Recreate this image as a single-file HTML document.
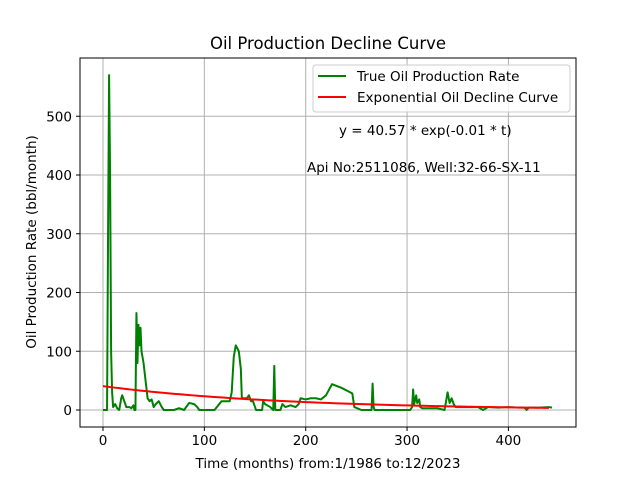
<!DOCTYPE html>
<html><head><meta charset="utf-8"><style>body{margin:0;background:#fff}svg{font-family:"DejaVu Sans","Liberation Sans",sans-serif}</style></head>
<body>
<svg id="chart" width="640" height="480" viewBox="0 0 640 480" xmlns="http://www.w3.org/2000/svg">
<rect width="640" height="480" fill="#fff"/>
<g id="grid"></g>
<g id="series"></g>
<rect x="80" y="58" width="496" height="369" fill="none" stroke="#000" stroke-width="1"/>
<g id="ticks"></g>
<text x="328" y="49" font-size="16.5" text-anchor="middle">Oil Production Decline Curve</text>
<text x="328" y="468" font-size="13.5" text-anchor="middle">Time (months) from:1/1986 to:12/2023</text>
<text transform="translate(36,242) rotate(-90)" font-size="13.5" text-anchor="middle">Oil Production Rate (bbl/month)</text>
<text x="339" y="135" font-size="13.5">y = 40.57 * exp(-0.01 * t)</text>
<text x="307" y="172" font-size="13.5">Api No:2511086, Well:32-66-SX-11</text>
<g>
<rect x="313" y="65" width="257" height="47" rx="3" fill="#fff" fill-opacity="0.8" stroke="#ccc"/>
<line x1="318" y1="76" x2="346" y2="76" stroke="green" stroke-width="2"/>
<text x="357" y="81" font-size="13.5">True Oil Production Rate</text>
<line x1="318" y1="97" x2="346" y2="97" stroke="red" stroke-width="2"/>
<text x="357" y="102" font-size="13.5">Exponential Oil Decline Curve</text>
</g>
</svg>
<script>
const months=[0,4,5,6,7,8,9,10,12,14,16,18,19,21,23,26,28,30,31,32,33,34,35,36,37,38,40,42,44,46,48,50,52,55,58,60,70,75,80,85,90,93,95,110,117,125,127,129,131,134,136,137,140,142,144,146,148,150,151,157,158,160,165,168,169,170,175,177,180,185,190,193,195,200,205,210,215,220,226,235,244,246,248,255,265,266,267,268,280,300,303,305,306,307,309,310,312,313,315,330,337,339,340,342,344,346,348,350,360,370,375,380,390,400,410,416,418,420,430,440,443];
const rates=[0,0,300,570,400,100,30,5,10,3,0,20,25,15,5,5,3,8,0,0,165,80,145,110,140,100,80,50,20,15,18,5,10,15,5,0,0,3,0,12,10,5,0,0,15,15,30,90,110,100,70,20,20,20,25,15,15,5,0,0,15,10,5,0,75,0,0,10,5,8,5,10,20,18,20,20,18,25,44,38,30,28,5,0,0,45,5,0,0,0,0,5,35,10,25,12,18,5,3,3,0,20,30,12,20,10,5,5,5,5,0,5,4,5,4,4,0,4,4,5,4];
const fitA=[40.57];const fitK=[0.0055];const fitEnd=[443];
const xTicks=[0,100,200,300,400];const yTicks=[0,100,200,300,400,500];
const X=v=>103+v*1.0135, Y=v=>410-v*0.5875;
const NS="http://www.w3.org/2000/svg";
function mk(t,a,p){const e=document.createElementNS(NS,t);for(const k in a)e.setAttribute(k,a[k]);p.appendChild(e);return e;}
const grid=document.getElementById('grid'),ticks=document.getElementById('ticks'),ser=document.getElementById('series');
xTicks.forEach(v=>{const x=X(v);
const g=mk('line',{x1:x,x2:x,y1:58,y2:427,stroke:'#b0b0b0','stroke-width':1},grid);


mk('line',{x1:x,x2:x,y1:427,y2:431,stroke:'#000'},ticks);
const t=mk('text',{x:x,y:445,'font-size':13.5,'text-anchor':'middle'},ticks);t.textContent=v;

});
yTicks.forEach(v=>{const y=Y(v);
const g=mk('line',{x1:80,x2:576,y1:y,y2:y,stroke:'#b0b0b0','stroke-width':1},grid);


mk('line',{x1:76,x2:80,y1:y,y2:y,stroke:'#000'},ticks);
const t=mk('text',{x:72,y:y+5,'font-size':13.5,'text-anchor':'end'},ticks);t.textContent=v;

});
const gp=mk('polyline',{points:months.map((m,i)=>X(m)+','+Y(rates[i])).join(' '),fill:'none',stroke:'green','stroke-width':2,'stroke-linejoin':'round'},ser);


let pts=[];for(let t=0;t<=fitEnd[0];t+=4)pts.push(X(t)+','+Y(fitA[0]*Math.exp(-fitK[0]*t)));
const rp=mk('polyline',{points:pts.join(' '),fill:'none',stroke:'red','stroke-width':2},ser);


</script>
</body></html>
